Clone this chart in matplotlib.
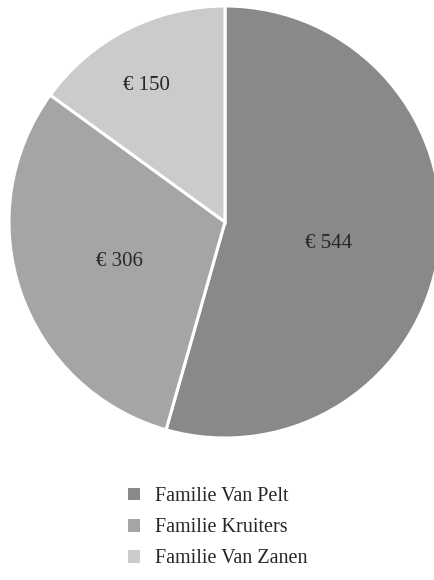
import numpy as np
import matplotlib.pyplot as plt
from matplotlib.patches import Patch

families = ['Familie Van Pelt', 'Familie Kruiters', 'Familie Van Zanen']
amounts = [544, 306, 150]
colors = ['#898989', '#a5a5a5', '#cbcbcb']
# label centres in pie radius units (as placed in the original)
label_xy = [(0.48, -0.10), (-0.49, -0.185), (-0.366, 0.634)]

plt.rcParams['font.family'] = ['Liberation Serif', 'DejaVu Serif']

fig = plt.figure(figsize=(4.35, 5.8), dpi=100)
# pie centre at (225, 222) px from top-left, radius 216 px
r = 216
ax = fig.add_axes([(225 - r) / 435, (358 - r) / 580, 2 * r / 435, 2 * r / 580])
wedges, _ = ax.pie(amounts, colors=colors, startangle=90, counterclock=False,
                   wedgeprops=dict(edgecolor='white', linewidth=2.2))
ax.set_xlim(-1, 1)
ax.set_ylim(-1, 1)
ax.set_aspect('equal')
for w in wedges:
    w.set_clip_on(False)

for (x, y), val in zip(label_xy, amounts):
    ax.text(x, y, f'€ {val}', ha='center', va='center', fontsize=15, color='#262626')

handles = [Patch(facecolor=c, edgecolor='none') for c in colors]
fig.legend(handles, families, loc='upper left', bbox_to_anchor=(110 / 435, 1 - 469 / 580),
           frameon=False, fontsize=14.5, handlelength=0.6, handleheight=0.6,
           handletextpad=0.75, labelspacing=0.6, labelcolor='#262626')

fig.savefig('out.png', dpi=100)
